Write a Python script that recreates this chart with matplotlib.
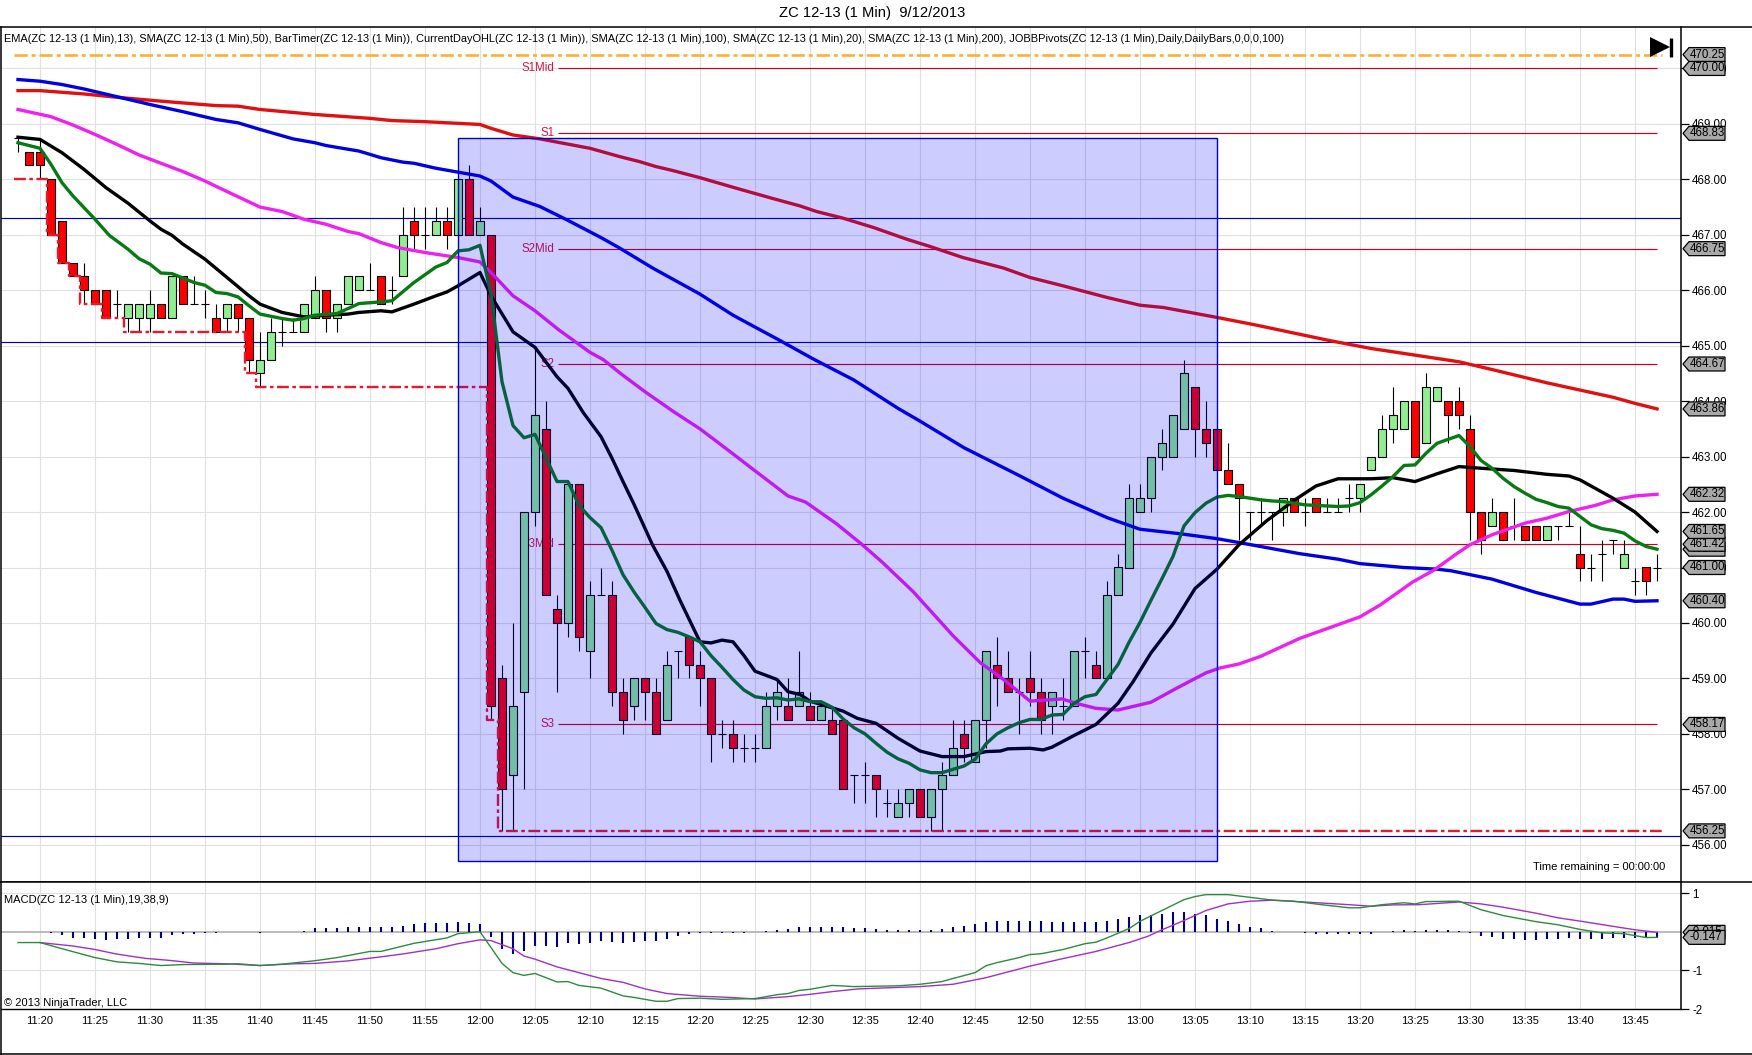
#!/usr/bin/env python3
"""ZC 12-13 one minute chart with moving averages, pivots and a MACD panel."""

import matplotlib

matplotlib.use("Agg")
import matplotlib.pyplot as plt
import numpy as np
from matplotlib.lines import Line2D
from matplotlib.patches import Polygon, Rectangle

plt.rcParams["font.family"] = ["Liberation Sans", "DejaVu Sans"]
plt.rcParams["font.size"] = 8

W, H = 1752, 1055

# x values are minutes after 11:00
bar_min = np.arange(18, 168)
opens = [
    468.75, 468.5, 468.5, 468, 467.25, 466.5, 466.25, 466, 466, 465.75,
    465.5, 465.5, 465.5, 465.75, 465.5, 466.25, 465.75, 465.75, 465.5, 465.5,
    465.75, 465.5, 464.5, 464.75, 465.25, 465.25, 465.25, 465.5, 466, 465.5,
    465.75, 466, 466, 466.25, 466, 466.25, 467.25, 467, 467, 467.25,
    467, 468, 467, 467, 459, 457.25, 458.75, 462, 463.5, 460.25,
    460, 462.5, 459.5, 460.5, 460.5, 458.75, 458.5, 459, 458.75, 458.25,
    459.5, 459.75, 459.25, 459, 458, 458, 457.75, 457.75, 457.75, 458.5,
    458.5, 458.5, 458.5, 458.25, 458.25, 458.25, 457.25, 457.25, 457.25, 456.75,
    456.5, 456.75, 457, 456.5, 457, 457.25, 458, 457.5, 458.25, 459.25,
    459, 458.75, 459, 458.75, 458.5, 458.5, 458.5, 459.5, 459.25, 459,
    460.5, 461, 462, 462.25, 463, 463, 463.5, 464.25, 463.5, 463.5,
    462.75, 462.5, 462, 462, 462, 462, 462.25, 462, 462.25, 462,
    462, 462.25, 462.25, 462.75, 463, 463.5, 463.5, 464, 463.25, 464,
    464, 464, 463.5, 462, 461.75, 462, 461.75, 461.75, 461.75, 461.5,
    461.75, 461.75, 461.25, 461, 461.25, 461.5, 461, 460.75, 461, 461,
]
opens = opens[:150]
highs = [
    468.75, 468.5, 468.75, 468, 467.25, 466.5, 466.5, 466, 466, 466,
    465.75, 465.75, 466, 465.75, 466.25, 466.25, 466.25, 466, 465.75, 465.75,
    465.75, 465.5, 465.25, 465.5, 465.5, 465.5, 465.75, 466.25, 466, 465.75,
    466.25, 466.25, 466.5, 466.25, 466.25, 467.5, 467.5, 467.5, 467.5, 467.5,
    468, 468.25, 467.5, 467, 459.25, 460, 462, 465, 464, 460.5,
    462.5, 462.5, 460.75, 461, 460.75, 459, 459, 459, 459, 459.5,
    459.5, 459.75, 459.5, 459, 458.25, 458.25, 458, 458, 458.75, 459,
    459, 459.5, 458.75, 458.5, 458.5, 458.25, 457.25, 457.5, 457.25, 457,
    457, 457, 457, 457, 457.5, 458.25, 458.25, 458.25, 459.5, 459.75,
    459.5, 459, 459.5, 459, 458.75, 459, 459.5, 459.75, 459.5, 460.75,
    461.25, 462.5, 462.5, 463, 463.5, 463.75, 464.75, 464.25, 464, 463.5,
    463.25, 462.5, 462, 462.25, 462, 462.25, 462.25, 462.25, 462.25, 462.25,
    462.25, 462.5, 462.5, 463, 463.75, 464.25, 464, 464, 464.5, 464.25,
    464, 464.25, 463.75, 462, 462.25, 462, 462.25, 461.75, 461.75, 461.75,
    461.75, 462, 461.75, 461.25, 461.5, 461.5, 461.5, 461, 461, 461.25,
]
lows = [
    468.5, 468.25, 468, 467, 466.5, 466.25, 465.75, 465.75, 465.5, 465.5,
    465.25, 465.25, 465.25, 465.5, 465.5, 465.75, 465.75, 465.5, 465.25, 465.25,
    465.25, 464.5, 464.25, 464.75, 465, 465.25, 465.25, 465.5, 465.25, 465.25,
    465.75, 466, 466, 465.75, 465.75, 466.25, 466.75, 466.75, 467, 466.75,
    467, 467, 467, 458.25, 456.25, 456.25, 457, 461.75, 460.5, 458.75,
    459.75, 459.5, 459, 460.5, 458.5, 458, 458.25, 458.25, 458, 458.25,
    459, 459, 458.5, 457.5, 457.75, 457.5, 457.5, 457.5, 457.75, 458.25,
    458.25, 458.5, 458.25, 458.25, 458, 457, 456.75, 456.75, 456.5, 456.5,
    456.5, 456.5, 456.5, 456.25, 456.25, 457.25, 457.5, 457.5, 457.75, 458.5,
    458.75, 458, 458.5, 458, 458, 458.25, 458.5, 459, 459, 459,
    460.5, 461, 462, 462, 462.75, 463, 463.5, 463, 463, 462.75,
    462.5, 461.5, 461.5, 461.75, 461.5, 461.75, 462, 461.75, 462, 462,
    462, 462, 462, 462.75, 463, 463.25, 463.5, 463, 463.25, 464,
    463.25, 463.5, 461.5, 461.25, 461.75, 461.5, 461.5, 461.5, 461.5, 461.5,
    461.5, 461.75, 460.75, 460.75, 460.75, 461.25, 461, 460.5, 460.5, 460.75,
]
closes = [
    468.75, 468.25, 468.25, 467, 466.5, 466.25, 466, 465.75, 465.5, 465.75,
    465.75, 465.75, 465.75, 465.5, 466.25, 465.75, 465.75, 465.75, 465.25, 465.75,
    465.5, 464.75, 464.75, 465.25, 465.25, 465.25, 465.75, 466, 465.5, 465.75,
    466.25, 466.25, 466, 465.75, 466, 467, 467, 467, 467.25, 467,
    468, 467, 467.25, 458.5, 457, 458.5, 462, 463.75, 460.5, 460,
    462.5, 459.75, 460.5, 460.5, 458.75, 458.25, 459, 458.75, 458, 459.25,
    459.5, 459.25, 459, 458, 458, 457.75, 457.75, 457.75, 458.5, 458.75,
    458.25, 458.75, 458.25, 458.5, 458, 457, 457.25, 457.25, 457, 456.75,
    456.75, 457, 456.5, 457, 457.25, 457.75, 457.75, 458.25, 459.5, 459,
    458.75, 458.75, 458.75, 458.25, 458.75, 458.5, 459.5, 459.5, 459, 460.5,
    461, 462.25, 462.25, 463, 463.25, 463.75, 464.5, 463.5, 463.25, 462.75,
    462.5, 462.25, 462, 462, 462, 462.25, 462, 462, 462, 462,
    462, 462.25, 462.5, 463, 463.5, 463.75, 464, 463, 464.25, 464.25,
    463.75, 463.75, 462, 461.5, 462, 461.5, 461.75, 461.5, 461.5, 461.75,
    461.75, 461.75, 461, 461, 461.25, 461.5, 461.25, 460.75, 460.75, 461,
]

sma200_min = [18, 20, 22, 24, 27, 31, 36, 38, 40, 45, 50, 52, 55, 57, 60, 61, 63, 65.45, 70,
              72.7, 74.5, 76, 77.5, 80, 83.3, 86.7, 89.1, 90.6, 93, 95.8, 98.8, 100.9, 103.9,
              107.6, 110, 113, 117, 120, 122.1, 127, 130.6, 134.9, 137.3, 141, 145, 149, 152,
              157, 160, 163, 165, 167]
sma200_val = [469.60, 469.60, 469.57, 469.54, 469.48, 469.41, 469.33, 469.32, 469.26,
              469.17, 469.10, 469.06, 469.04, 469.02, 468.99, 468.92, 468.80, 468.73,
              468.56, 468.41, 468.32, 468.23, 468.16, 468.03, 467.84, 467.65, 467.52,
              467.42, 467.30, 467.13, 466.92, 466.79, 466.59, 466.40, 466.23, 466.08,
              465.87, 465.73, 465.69, 465.51, 465.37, 465.19, 465.09, 464.95, 464.83,
              464.71, 464.57, 464.33, 464.20, 464.07, 463.96, 463.86]

sma100_min = [18, 20, 22, 24, 27, 30, 33, 36, 38, 40, 43, 45, 46, 49, 51, 53, 54, 56, 58,
              60, 61, 63, 65.45, 67.9, 71, 72.7, 75.7, 80, 83, 87.3, 90.3, 94, 98, 100, 104,
              109, 113, 117, 120, 123.6, 127, 129, 134.5, 138, 140, 144, 147, 148.3, 152,
              156, 160, 161, 163, 164, 165, 167]
sma100_val = [469.80, 469.77, 469.71, 469.63, 469.49, 469.35, 469.22, 469.08, 469.02,
              468.90, 468.73, 468.66, 468.61, 468.51, 468.39, 468.31, 468.29, 468.20,
              468.13, 468.06, 467.97, 467.68, 467.51, 467.27, 466.95, 466.76, 466.40,
              465.93, 465.55, 465.09, 464.76, 464.38, 463.87, 463.64, 463.16, 462.66,
              462.25, 461.90, 461.69, 461.61, 461.52, 461.45, 461.25, 461.15, 461.07,
              461.00, 460.97, 460.94, 460.79, 460.55, 460.34, 460.34, 460.43, 460.43,
              460.39, 460.40]

sma50_min = [18, 21, 23, 25, 27, 29, 31, 33, 35, 37, 40, 42, 44, 46, 48, 49, 51, 52.5, 55,
             58, 60, 61, 63, 65, 67.2, 70, 71.2, 72.9, 75, 77.6, 80, 82.6, 84.5, 88, 89.6,
             92.4, 94.7, 96.6, 99.4, 103, 105.5, 107.6, 110, 112.9, 114.2, 116, 118, 121,
             123.3, 126, 127.3, 129, 131, 134.5, 140, 141.8, 144.8, 146.7, 148.8, 150,
             152, 155, 157, 159, 161.4, 163, 165, 167]
sma50_val = [469.26, 469.13, 468.98, 468.81, 468.63, 468.44, 468.29, 468.14, 467.97,
             467.78, 467.50, 467.42, 467.28, 467.19, 467.06, 467.02, 466.86, 466.77,
             466.68, 466.59, 466.51, 466.32, 465.90, 465.63, 465.28, 464.88, 464.75,
             464.48, 464.17, 463.81, 463.50, 463.11, 462.82, 462.29, 462.18, 461.79,
             461.42, 461.09, 460.56, 459.77, 459.28, 458.98, 458.59, 458.63, 458.55,
             458.46, 458.43, 458.57, 458.82, 459.10, 459.19, 459.26, 459.40, 459.72,
             460.11, 460.32, 460.74, 460.95, 461.25, 461.41, 461.59, 461.80, 461.89,
             462.01, 462.12, 462.22, 462.29, 462.32]

sma20_min = [18, 20, 22, 24, 26, 28, 30, 31, 32, 33, 35, 37, 39, 40, 42, 44, 46, 48, 49,
             51, 52, 54, 56, 57, 58, 60, 61, 63, 65, 67, 68, 69.4, 71, 72, 73, 74, 75.7,
             77, 78.2, 80, 81, 82, 83, 84, 85, 87, 88, 89.1, 90, 92, 93, 94.3, 96, 98,
             100, 102, 104, 106, 107.3, 108, 110, 111.2, 112, 114, 116, 118, 119.4, 121,
             123, 125, 127, 129, 131.5, 134, 136, 138, 141, 143, 145, 147, 149, 151, 154,
             157, 159, 160, 163, 165, 167]
sma20_val = [468.76, 468.72, 468.48, 468.18, 467.85, 467.57, 467.25, 467.10, 466.99,
             466.83, 466.56, 466.23, 465.90, 465.75, 465.60, 465.52, 465.55, 465.57,
             465.60, 465.63, 465.61, 465.75, 465.90, 465.97, 466.08, 466.32, 465.90,
             465.25, 464.97, 464.44, 464.23, 463.79, 463.36, 462.97, 462.55, 462.14,
             461.40, 460.93, 460.40, 459.66, 459.64, 459.69, 459.66, 459.41, 459.13,
             458.98, 458.76, 458.71, 458.59, 458.47, 458.41, 458.28, 458.19, 457.92,
             457.69, 457.59, 457.59, 457.68, 457.69, 457.73, 457.74, 457.71, 457.76,
             457.97, 458.17, 458.55, 458.95, 459.46, 459.98, 460.62, 460.97, 461.41,
             461.84, 462.21, 462.47, 462.60, 462.60, 462.62, 462.55, 462.69, 462.82,
             462.79, 462.75, 462.68, 462.65, 462.58, 462.25, 462.00, 461.65]

ema13_min = [18, 20, 21, 22, 23, 24, 25, 26.3, 28, 29, 30, 31, 32, 34, 35, 36, 37, 38, 39,
             40, 42, 43, 44, 45, 47, 49, 51, 52, 54, 56, 57, 58, 59, 60, 61] + list(range(62, 168))
ema13_val = [468.66, 468.56, 468.27, 467.94, 467.70, 467.49, 467.28, 466.99, 466.74,
             466.57, 466.47, 466.31, 466.30, 466.14, 466.09, 465.96, 465.94, 465.88,
             465.72, 465.57, 465.49, 465.46, 465.49, 465.55, 465.58, 465.76, 465.79,
             465.81, 466.14, 466.42, 466.50, 466.71, 466.73, 466.81, 465.93,
             464.35, 463.56, 463.34, 463.40, 462.98, 462.55, 462.55, 462.12, 461.90,
             461.72, 461.31, 460.87, 460.56, 460.28, 459.99, 459.88, 459.83, 459.75,
             459.66, 459.41, 459.20, 458.98, 458.79, 458.67, 458.64, 458.65, 458.61,
             458.63, 458.58, 458.58, 458.48, 458.27, 458.11, 458.00, 457.83, 457.67,
             457.55, 457.47, 457.35, 457.30, 457.30, 457.36, 457.42, 457.54, 457.82,
             458.00, 458.11, 458.20, 458.26, 458.26, 458.34, 458.35, 458.55, 458.67,
             458.71, 458.98, 459.25, 459.65, 460.01, 460.41, 460.80, 461.20, 461.75,
             461.99, 462.16, 462.27, 462.30, 462.28, 462.25, 462.22, 462.20, 462.19,
             462.16, 462.13, 462.12, 462.11, 462.10, 462.11, 462.17, 462.31, 462.47,
             462.64, 462.84, 462.85, 463.06, 463.24, 463.31, 463.38, 463.18, 462.93,
             462.79, 462.61, 462.46, 462.34, 462.23, 462.17, 462.10, 462.07, 461.92,
             461.77, 461.70, 461.67, 461.62, 461.48, 461.38, 461.33]

day_low_min = [17.6, 20.6, 21.6, 22.6, 23.6, 25.6, 27.6, 38.6, 39.6, 60.6, 61.6, 167.5]
day_low_val = [468, 467, 466.5, 466.25, 465.75, 465.5, 465.25, 464.5, 464.25, 458.25, 456.25, 456.25]
day_high = 470.25

pivot_names = ["S1Mid", "S1", "S2Mid", "S2", "S3Mid", "S3"]
pivot_levels = [470.00, 468.83, 466.75, 464.67, 461.42, 458.17]
fib_levels = [467.30, 465.06, 456.15]
box_min = [58, 127]
box_price = [455.7, 468.75]

price_tags = [470.25, 470.00, 468.83, 466.75, 464.67, 463.86, 462.32, 461.33, 461.42, 461.65, 461.00, 460.40, 458.17, 456.25]
price_ticks = np.arange(456, 471)

macd_min = [18, 20, 22, 25, 27, 29, 31, 33, 37, 38, 40, 42, 45, 47, 50, 51, 54, 57, 58, 60, 61, 62,
            63, 64, 65, 67, 68, 69, 71, 73, 74, 76, 77, 78, 80, 82, 85, 87, 88, 89, 90, 92, 94,
            98, 100, 102, 103, 105, 106, 107, 109, 110, 111, 113, 115, 116, 117, 119, 120, 122,
            124, 125, 126, 128, 130, 132, 134, 136.5, 139, 140, 142, 144, 145, 146, 149, 150,
            151, 153, 156, 158, 160, 162, 164, 166, 167]
macd_val = [-.28, -.28, -.44, -.67, -.78, -.82, -.875, -.85, -.84, -.83, -.875, -.84, -.75, -.67,
            -.51, -.51, -.30, -.16, -.05, 0, -.41, -.82, -1.06, -1.13, -1.08, -1.30, -1.29, -1.39,
            -1.46, -1.66, -1.70, -1.80, -1.80, -1.73, -1.72, -1.75, -1.73, -1.63, -1.60, -1.52,
            -1.49, -1.39, -1.42, -1.40, -1.36, -1.29, -1.21, -1.06, -.88, -.80, -.67, -.59, -.57,
            -.46, -.31, -.27, -.16, .08, .27, .55, .83, .91, .96, .96, .89, .82, .79, .70, .62,
            .62, .70, .75, .72, .78, .79, .68, .57, .42, .26, .18, .06, -.03, -.05, -.15, -.147]
avg_min = [20, 23, 25, 27, 29.6, 31.7, 34, 37, 40, 43, 45, 48, 51, 53, 56, 58, 60, 61, 63, 64, 65,
           67, 71, 73, 75, 77, 80, 82.7, 85, 88, 90, 92, 94.4, 100, 103, 106, 110, 113, 116, 119,
           120.7, 122, 124, 126, 128, 130, 132, 135.5, 139, 141, 143, 145.4, 149, 151, 153, 156,
           158, 160, 163, 165, 167]
avg_val = [-.28, -.37, -.46, -.58, -.69, -.74, -.81, -.83, -.875, -.83, -.82, -.755, -.65, -.575,
           -.44, -.31, -.21, -.23, -.44, -.63, -.71, -.91, -1.21, -1.31, -1.48, -1.60, -1.67,
           -1.70, -1.74, -1.68, -1.62, -1.55, -1.48, -1.42, -1.36, -1.19, -.89, -.695, -.51, -.28,
           -.12, .05, .29, .55, .72, .79, .815, .76, .70, .66, .695, .70, .77, .72, .635, .48,
           .36, .275, .14, .05, -.015]
hist_min = np.arange(21, 168)
hist_val = [-.03, -.09, -.15, -.17, -.20, -.21, -.20, -.20, -.17, -.15, -.15, -.085, -.07, -.05,
            -.035, -.025, -.02, -.02, -.02, -.025, -.015, -.005, .005, .025, .085, .085, .085, .135,
            .135, .135, .135, .135, .16, .19, .22, .22, .22, .24, .22, .205, -.145, -.44, -.575,
            -.505, -.37, -.37, -.395, -.30, -.32, -.30, -.25, -.275, -.30, -.275, -.25, -.25, -.20,
            -.12, -.07, -.04, -.04, -.04, -.04, -.035, -.02, .015, .05, .08, .11, .135, .135, .135,
            .11, .085, .085, .06, .05, .05, .05, .05, .05, .08, .135, .16, .19, .26, .29, .28, .28,
            .28, .265, .24, .24, .24, .26, .24, .28, .32, .37, .42, .445, .47, .50, .52, .47, .42,
            .34, .265, .19, .135, .085, .025, .005, -.01, -.03, -.05, -.05, -.05, -.05, -.05, -.05,
            -.015, .015, .05, .015, .05, .05, .05, .025, -.03, -.12, -.145, -.20, -.20, -.22, -.22,
            -.20, -.20, -.17, -.20, -.20, -.20, -.17, -.15, -.15, -.15, -.15]

time_ticks = np.arange(20, 166, 5)
time_labels = ["11:20", "11:25", "11:30", "11:35", "11:40", "11:45", "11:50", "11:55", "12:00", "12:05",
               "12:10", "12:15", "12:20", "12:25", "12:30", "12:35", "12:40", "12:45", "12:50", "12:55",
               "13:00", "13:05", "13:10", "13:15", "13:20", "13:25", "13:30", "13:35", "13:40", "13:45"]
legend_text = ("EMA(ZC 12-13 (1 Min),13), SMA(ZC 12-13 (1 Min),50), BarTimer(ZC 12-13 (1 Min)), "
               "CurrentDayOHL(ZC 12-13 (1 Min)), SMA(ZC 12-13 (1 Min),100), SMA(ZC 12-13 (1 Min),20), "
               "SMA(ZC 12-13 (1 Min),200), JOBBPivots(ZC 12-13 (1 Min),Daily,DailyBars,0,0,0,100)")


def panel(top, bottom):
    return [1 / W, 1 - bottom / H, 1680 / W, (bottom - top) / H]


def value_tag(ax, value, label, half, z=10):
    # grey price marker sitting right of the axis, half = half height in data units
    frac = lambda px: 1 + (px - 1681) / 1680
    pts = [(frac(1683), value), (frac(1689), value + half), (frac(1725), value + half),
           (frac(1725), value - half), (frac(1689), value - half)]
    ax.add_patch(Polygon(pts, closed=True, fc="#a9a9a9", ec="black", lw=0.9,
                         transform=ax.get_yaxis_transform(), clip_on=False, zorder=z))
    ax.text(frac(1690), value, label, transform=ax.get_yaxis_transform(), ha="left", va="center",
            fontsize=8.3, clip_on=False, zorder=z + 0.5)


def grid_style(ax):
    ax.set_xlim(20 - 39 / 11, 20 + 1641 / 11)
    ax.set_xticks(time_ticks)
    ax.yaxis.tick_right()
    ax.grid(True, color="#e0e0e0", lw=0.8)
    ax.set_axisbelow(True)
    for side in ("left", "top"):
        ax.spines[side].set_visible(False)
    ax.spines["right"].set_linewidth(1.1)


fig = plt.figure(figsize=(W / 100, H / 100), dpi=100)
ax = fig.add_axes(panel(27, 882))
ax2 = fig.add_axes(panel(882, 1009))

# price panel
grid_style(ax)
ax.set_ylim(465 - (882 - 345.7) / 55.45, 465 + (345.7 - 27) / 55.45)
ax.set_yticks(price_ticks)
ax.set_yticklabels([f"{v:.2f}" for v in price_ticks], fontsize=8.3)
ax.tick_params(axis="y", length=6, width=0.9, pad=2)
ax.tick_params(axis="x", length=0, labelbottom=False)
ax.spines["bottom"].set_linewidth(1.1)

o, h, l, c = map(np.array, (opens, highs, lows, closes))
ax.vlines(bar_min, l, h, color="black", lw=0.8, zorder=3)
up = c > o
down = c < o
flat = c == o
ax.bar(bar_min[up], (c - o)[up], 0.73, o[up], color="#90ee90", edgecolor="black", lw=0.8, zorder=3.1)
ax.bar(bar_min[down], (o - c)[down], 0.73, c[down], color="#ff0000", edgecolor="black", lw=0.8, zorder=3.1)
ax.hlines(c[flat], bar_min[flat] - 0.4, bar_min[flat] + 0.4, color="black", lw=0.8, zorder=3.1)

for lvl in fib_levels:
    ax.axhline(lvl, color="#0000b4", lw=0.85, zorder=2.5)
for name, lvl in zip(pivot_names, pivot_levels):
    ax.hlines(lvl, 67.1, 167, color="#cc0022", lw=0.85, zorder=2.6)
    ax.text(66.8, lvl, name, color="#dc143c", ha="right", va="center", fontsize=8.3, zorder=3.05)

ax.plot(day_low_min, day_low_val, color="#e8192c", lw=1.7, ls=(0, (5, 1.5, 1.5, 1.5)),
        drawstyle="steps-post", zorder=4)
ax.hlines(day_high, 17.6, 167.5, color="#ffb030", lw=1.9, ls=(0, (5, 1.5, 1.5, 1.5)), zorder=4)

ax.plot(sma200_min, sma200_val, color="#e01010", lw=2.4, zorder=5)
ax.plot(sma100_min, sma100_val, color="#0000e0", lw=2.4, zorder=5)
ax.plot(sma50_min, sma50_val, color="#f020f0", lw=2.4, zorder=5)
ax.plot(sma20_min, sma20_val, color="black", lw=2.4, zorder=5)
ax.plot(ema13_min, ema13_val, color="#087a14", lw=2.4, zorder=5.1)

ax.add_patch(Rectangle((box_min[0], box_price[0]), box_min[1] - box_min[0], box_price[1] - box_price[0],
                       fc=(0, 0, 1, 0.2), ec="#0000c8", lw=1.0, zorder=6))

for i, v in enumerate(price_tags):
    value_tag(ax, v, f"{v:.2f}", 0.126, z=10 + i)

ax.text(3 / 1680, 1 - 12 / 855, legend_text, transform=ax.transAxes, ha="left", va="center", fontsize=7.88)
ax.text(1664 / 1680, 1 - 840 / 855, "Time remaining = 00:00:00", transform=ax.transAxes, ha="right",
        va="center", fontsize=8)
# bar timer end-of-session glyph
ax.plot([1659 / 1680], [1 - 20 / 855], marker=">", ms=15, color="black", mew=0, transform=ax.transAxes,
        clip_on=False, zorder=7)
ax.plot([1669.5 / 1680, 1669.5 / 1680], [1 - 11 / 855, 1 - 30 / 855], color="black", lw=2.4,
        solid_capstyle="butt", transform=ax.transAxes, zorder=7)

# macd panel
grid_style(ax2)
ax2.set_ylim(-1.98, 50 / 38.85)
ax2.set_yticks([-2, -1, 1])
ax2.set_yticklabels(["-2", "-1", "1"], fontsize=8.3)
ax2.tick_params(axis="y", length=6, width=0.9, pad=2)
ax2.set_xticklabels(time_labels, fontsize=8)
ax2.tick_params(axis="x", length=0, pad=5)
ax2.spines["bottom"].set_linewidth(1.0)
ax2.axhline(0, color="#a8a8a8", lw=1.1, zorder=1.8)
ax2.vlines(hist_min, 0, hist_val, color="#000080", lw=1.5, zorder=3)
ax2.plot(avg_min, avg_val, color="#a030c8", lw=1.0, zorder=4)
ax2.plot(macd_min, macd_val, color="#2e8b3c", lw=1.0, zorder=4.1)
value_tag(ax2, -0.015, "-0.015", 0.18)
value_tag(ax2, -0.147, "-0.147", 0.18, z=11)
ax2.text(3 / 1680, 1 - 18 / 127, "MACD(ZC 12-13 (1 Min),19,38,9)", transform=ax2.transAxes, ha="left",
         va="center", fontsize=8)
ax2.text(3 / 1680, 1 - 121 / 127, "\u00a9 2013 NinjaTrader, LLC", transform=ax2.transAxes, ha="left",
         va="center", fontsize=8)

# frame around the whole chart, open on the right
fig.text(872 / W, 1 - 13 / H, "ZC 12-13 (1 Min)  9/12/2013", ha="center", va="center", fontsize=10.6)
fy = lambda px: 1 - px / H
for xs, ys in (([0, 1], [fy(27), fy(27)]), ([0, 1], [fy(882), fy(882)]), ([0, 1], [fy(1054), fy(1054)]),
               ([0.5 / W, 0.5 / W], [fy(27), fy(1054)])):
    fig.add_artist(Line2D(xs, ys, color="black", lw=1.1, transform=fig.transFigure))

fig.savefig("out.png", dpi=100)
